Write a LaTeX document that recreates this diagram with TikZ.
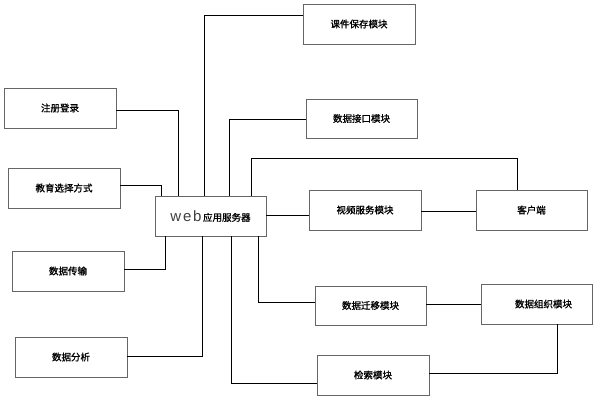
\documentclass[tikz,border=0pt]{standalone}
\usepackage{fontspec}
\newfontfamily\cjk[FakeBold=1.2]{Noto Sans CJK SC}
\newfontfamily\webfont[LetterSpace=12]{Liberation Sans}
\begin{document}
\begin{tikzpicture}[x=1pt,y=-1pt,
  box/.style={draw=black!60,line width=0.8pt,inner sep=0pt,minimum width=112pt,minimum height=40pt,font=\cjk\fontsize{9.5}{9.5}\selectfont},
  conn/.style={draw=black,line width=0.7pt}]
\useasboundingbox (0,0) rectangle (599,403);
\fill[white] (0,0) rectangle (599,403);
\node[box] (reg) at (60,108) {注册登录};
\node[box] (edu) at (64,188) {教育选择方式};
\node[box,minimum width=111pt] (server) at (210.5,216) {{\webfont\fontsize{15}{15}\selectfont\color{black!75}web}\,应用服务器};
\node[box] (trans) at (68,271) {数据传输};
\node[box] (anal) at (71,357) {数据分析};
\node[box] (save) at (359,24) {课件保存模块};
\node[box,minimum width=111pt,minimum height=39pt] (iface) at (361.5,118.5) {数据接口模块};
\node[box] (video) at (365,210) {视频服务模块};
\node[box,minimum width=111pt] (client) at (531.5,210) {客户端};
\node[box,minimum width=111pt,minimum height=39pt] (migr) at (370.5,305.5) {数据迁移模块};
\node[box,minimum width=111pt] (org) at (536.5,304) {\hspace{14pt}数据组织模块};
\node[box] (search) at (373,375) {检索模块};
\draw[conn] (reg.east |- 0,110) -| (server.north -| 178,0);
\draw[conn] (edu.east |- 0,185) -| (server.north -| 161,0);
\draw[conn] (server.north -| 204,0) |- (save.west |- 0,15);
\draw[conn] (server.north -| 229,0) |- (iface.west |- 0,119);
\draw[conn] (server.north -| 251,0) |- (517,158) -- (client.north -| 517,0);
\draw[conn] (server.east |- 0,215) -- (video.west |- 0,215);
\draw[conn] (video.east |- 0,211) -- (client.west |- 0,211);
\draw[conn] (server.south -| 165,0) |- (trans.east |- 0,269);
\draw[conn] (server.south -| 202,0) |- (anal.east |- 0,356);
\draw[conn] (server.south -| 231,0) |- (search.west |- 0,383);
\draw[conn] (server.south -| 258,0) |- (migr.west |- 0,302);
\draw[conn] (migr.east |- 0,304) -- (org.west |- 0,304);
\draw[conn] (org.south -| 557,0) |- (search.east |- 0,373);
\end{tikzpicture}
\end{document}
